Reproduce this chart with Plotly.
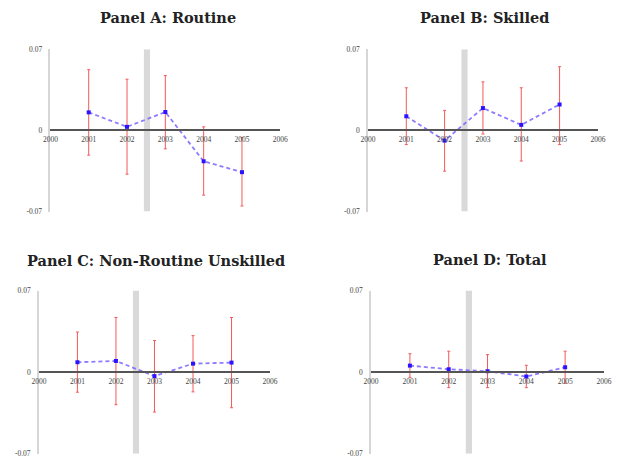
import plotly.graph_objects as go

years = [2001, 2002, 2003, 2004, 2005]
axis_years = [2000, 2001, 2002, 2003, 2004, 2005, 2006]

titles = ["Panel A: Routine", "Panel B: Skilled",
          "Panel C: Non-Routine Unskilled", "Panel D: Total"]

a_est = [0.0156, 0.0031, 0.0159, -0.0266, -0.0360]
a_hi = [0.0524, 0.0442, 0.0473, 0.0031, -0.0062]
a_lo = [-0.0213, -0.0377, -0.0159, -0.0558, -0.0652]

b_est = [0.0122, -0.0088, 0.0193, 0.0048, 0.0224]
b_hi = [0.0368, 0.0173, 0.0419, 0.0368, 0.0550]
b_lo = [-0.0122, -0.0351, -0.0031, -0.0264, -0.0122]

c_est = [0.0085, 0.0096, -0.0034, 0.0073, 0.0082]
c_hi = [0.0344, 0.0469, 0.0271, 0.0313, 0.0469]
c_lo = [-0.0172, -0.0279, -0.0342, -0.0169, -0.0305]

d_est = [0.0056, 0.0025, 0.0008, -0.0037, 0.0042]
d_hi = [0.0158, 0.0180, 0.0150, 0.0059, 0.0180]
d_lo = [-0.0045, -0.0133, -0.0133, -0.0133, -0.0096]

y_ticks = [-0.07, 0, 0.07]
y_ticktext = ["-0.07", "0", "0.07"]
break_band = [2002.44, 2002.60]

panels = [(a_est, a_hi, a_lo), (b_est, b_hi, b_lo),
          (c_est, c_hi, c_lo), (d_est, d_hi, d_lo)]

W, H = 621, 463
# pixel boxes (x0, x1, ytop, ybottom)
boxes = [(43.5, 279.5, 46.2, 211.7),
         (369.5, 605.5, 46.2, 211.7),
         (31.7, 269.0, 292.2, 458.7),
         (372.7, 611.7, 292.2, 458.7)]
title_pos = [(164, 14), (489, 14), (152, 262), (495, 261)]

fig = go.Figure()
tick_font = dict(family="Liberation Serif", size=7.5, color="#444444")

for i, ((est, hi, lo), box) in enumerate(zip(panels, boxes)):
    n = "" if i == 0 else str(i + 1)
    x0, x1, yt, yb = box
    xd = [x0 / W, x1 / W]
    yd = [1 - yb / H, 1 - yt / H]
    ymid = (yd[0] + yd[1]) / 2
    fig.add_trace(go.Scatter(
        x=years, y=est, mode="lines+markers",
        line=dict(color="rgba(120,100,255,0.85)", width=1.8, dash="4px,3px"),
        marker=dict(symbol="square", size=4, color="#2a14ff"),
        error_y=dict(type="data", symmetric=False,
                     array=[h - e for h, e in zip(hi, est)],
                     arrayminus=[e - l for e, l in zip(est, lo)],
                     color="#f25a5a", thickness=1, width=1.5),
        xaxis="x" + n, yaxis="y" + n, showlegend=False, cliponaxis=False))
    fig.layout["xaxis" + n] = dict(
        domain=xd, range=[2000, 2006], tickvals=axis_years,
        ticktext=[str(v) for v in axis_years],
        anchor="free", position=ymid, showline=True, linecolor="#555555",
        linewidth=1.5, showgrid=False, zeroline=False, ticks="",
        tickfont=dict(tick_font), ticklabelstandoff=2)
    fig.layout["yaxis" + n] = dict(
        domain=yd, range=[-0.07, 0.07], tickvals=y_ticks, ticktext=y_ticktext,
        anchor="x" + n, showline=True, linecolor="#d6d6d6", linewidth=1.5,
        showgrid=False, zeroline=False, ticks="", tickfont=dict(tick_font),
        ticklabelstandoff=5)
    fig.add_shape(type="rect", xref="x" + n, yref="y" + n,
                  x0=break_band[0], x1=break_band[1], y0=-0.07, y1=0.07,
                  fillcolor="#d9d9d9", line=dict(width=0), layer="below")
    tx, ty = title_pos[i]
    fig.add_annotation(text="<b>" + titles[i] + "</b>", x=tx / W, y=1 - ty / H,
                       xref="paper", yref="paper", showarrow=False,
                       xanchor="center", yanchor="middle",
                       font=dict(family="DejaVu Serif", size=14.5, color="#222222"))

fig.update_layout(width=W, height=H, margin=dict(l=0, r=0, t=0, b=0),
                  paper_bgcolor="white", plot_bgcolor="white")
fig.write_html("out.html")
